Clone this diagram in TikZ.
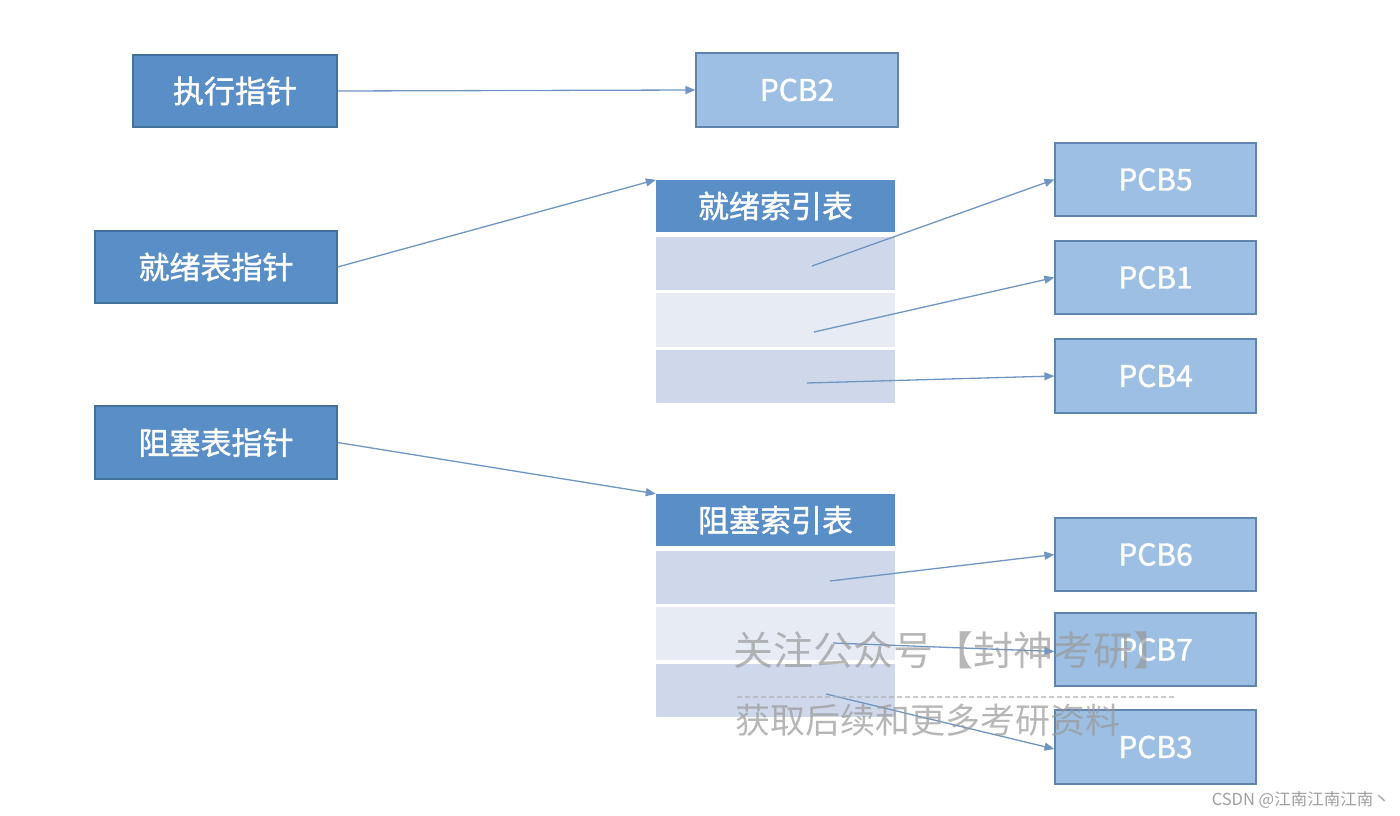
\documentclass[tikz,border=0pt]{standalone}
\usepackage{fontspec}
\setmainfont{Noto Sans CJK SC}
\newfontfamily\cjk{Noto Sans CJK SC}
\newfontfamily\cjkm[FakeBold=1.3]{Noto Sans CJK SC}
\usetikzlibrary{arrows.meta}
\definecolor{darkfill}{HTML}{5A8EC6}
\definecolor{darkline}{HTML}{41719C}
\definecolor{lightfill}{HTML}{9CBFE3}
\definecolor{lightline}{HTML}{5F84AE}
\definecolor{rowA}{HTML}{CFD8EA}
\definecolor{rowB}{HTML}{E7ECF4}
\definecolor{arrowc}{HTML}{6F95C2}
\tikzset{
  ptrbox/.style={draw=darkline, line width=1.2pt, fill=darkfill, text=white, inner sep=0pt,
    font=\cjkm\fontsize{31}{34}\selectfont},
  pcbbox/.style={draw=lightline, line width=1.2pt, fill=lightfill, text=white, inner sep=0pt,
    font=\cjkm\fontsize{30}{34}\selectfont},
  headbox/.style={fill=darkfill, text=white, inner sep=0pt, font=\cjkm\fontsize{31}{34}\selectfont},
  rowbox/.style={inner sep=0pt},
  link/.style={draw=arrowc, line width=1.3pt, -{Triangle[length=10pt,width=8pt]}},
  wm/.style={text=gray!80, opacity=0.7, inner sep=0pt, anchor=west}
}
\begin{document}
\begin{tikzpicture}[x=1pt,y=-1pt]
\useasboundingbox (0,0) rectangle (1400,816);
% pointer boxes
\node[ptrbox, minimum width=204pt, minimum height=72pt] (exec) at (235,91) {执行指针};
\node[ptrbox, minimum width=242pt, minimum height=72pt] (ready) at (216,267) {就绪表指针};
\node[ptrbox, minimum width=242pt, minimum height=73pt] (block) at (216,442.5) {阻塞表指针};
% PCB2
\node[pcbbox, minimum width=202pt, minimum height=74pt] (pcb2) at (797,90) {PCB2};
% ready index table
\node[headbox, minimum width=239pt, minimum height=52pt] (rh) at (775.5,206) {就绪索引表};
\node[rowbox, fill=rowA, minimum width=239pt, minimum height=53pt] (r1) at (775.5,263.5) {};
\node[rowbox, fill=rowB, minimum width=239pt, minimum height=54pt] (r2) at (775.5,320) {};
\node[rowbox, fill=rowA, minimum width=239pt, minimum height=53pt] (r3) at (775.5,376.5) {};
% blocked index table
\node[headbox, minimum width=239pt, minimum height=52pt] (bh) at (775.5,520) {阻塞索引表};
\node[rowbox, fill=rowA, minimum width=239pt, minimum height=53pt] (b1) at (775.5,577.5) {};
\node[rowbox, fill=rowB, minimum width=239pt, minimum height=53pt] (b2) at (775.5,633.5) {};
\node[rowbox, fill=rowA, minimum width=239pt, minimum height=53pt] (b3) at (775.5,690.5) {};
% PCBs on right
\node[pcbbox, minimum width=201pt, minimum height=73pt] (pcb5) at (1155.5,179.5) {PCB5};
\node[pcbbox, minimum width=201pt, minimum height=73pt] (pcb1) at (1155.5,277.5) {PCB1};
\node[pcbbox, minimum width=201pt, minimum height=74pt] (pcb4) at (1155.5,376) {PCB4};
\node[pcbbox, minimum width=201pt, minimum height=73pt] (pcb6) at (1155.5,554.5) {PCB6};
\node[pcbbox, minimum width=201pt, minimum height=73pt] (pcb7) at (1155.5,649.5) {PCB7};
\node[pcbbox, minimum width=201pt, minimum height=74pt] (pcb3) at (1155.5,747) {PCB3};
% link start coordinates inside rows
\coordinate (s1) at (812,266);
\coordinate (s2) at (814,332);
\coordinate (s3) at (807,383);
\coordinate (t1) at (830,581);
\coordinate (t2) at (833,643);
\coordinate (t3) at (826,694);
% connectors
\draw[link] (exec.east) -- (pcb2.west);
\draw[link] (ready.east) -- (rh.north west);
\draw[link] (block.east) -- (bh.north west);
\draw[link] (s1) -- (pcb5.west);
\draw[link] (s2) -- (pcb1.west);
\draw[link] (s3) -- (pcb4.west);
\draw[link] (t1) -- (pcb6.west);
\draw[link] (t2) -- ([yshift=-2pt]pcb7.west);
\draw[link] (t3) -- ([yshift=-2pt]pcb3.west);
% watermark
\node[wm, font=\cjk\fontsize{40}{42}\selectfont] (wm1) at (733,650) {关注公众号【封神考研】};
\draw[gray!60, line width=1.2pt, dash pattern=on 5pt off 3pt, opacity=0.7] (737,697) -- (1175,697);
\node[wm, font=\cjk\fontsize{35}{38}\selectfont] (wm2) at (735,720) {获取后续和更多考研资料};
% credit
\node[anchor=east, text=gray!75, inner sep=0pt, font=\cjk\fontsize{16.5}{18}\selectfont] (csdn) at (1390,800) {CSDN @江南江南江南丶};
\end{tikzpicture}
\end{document}
